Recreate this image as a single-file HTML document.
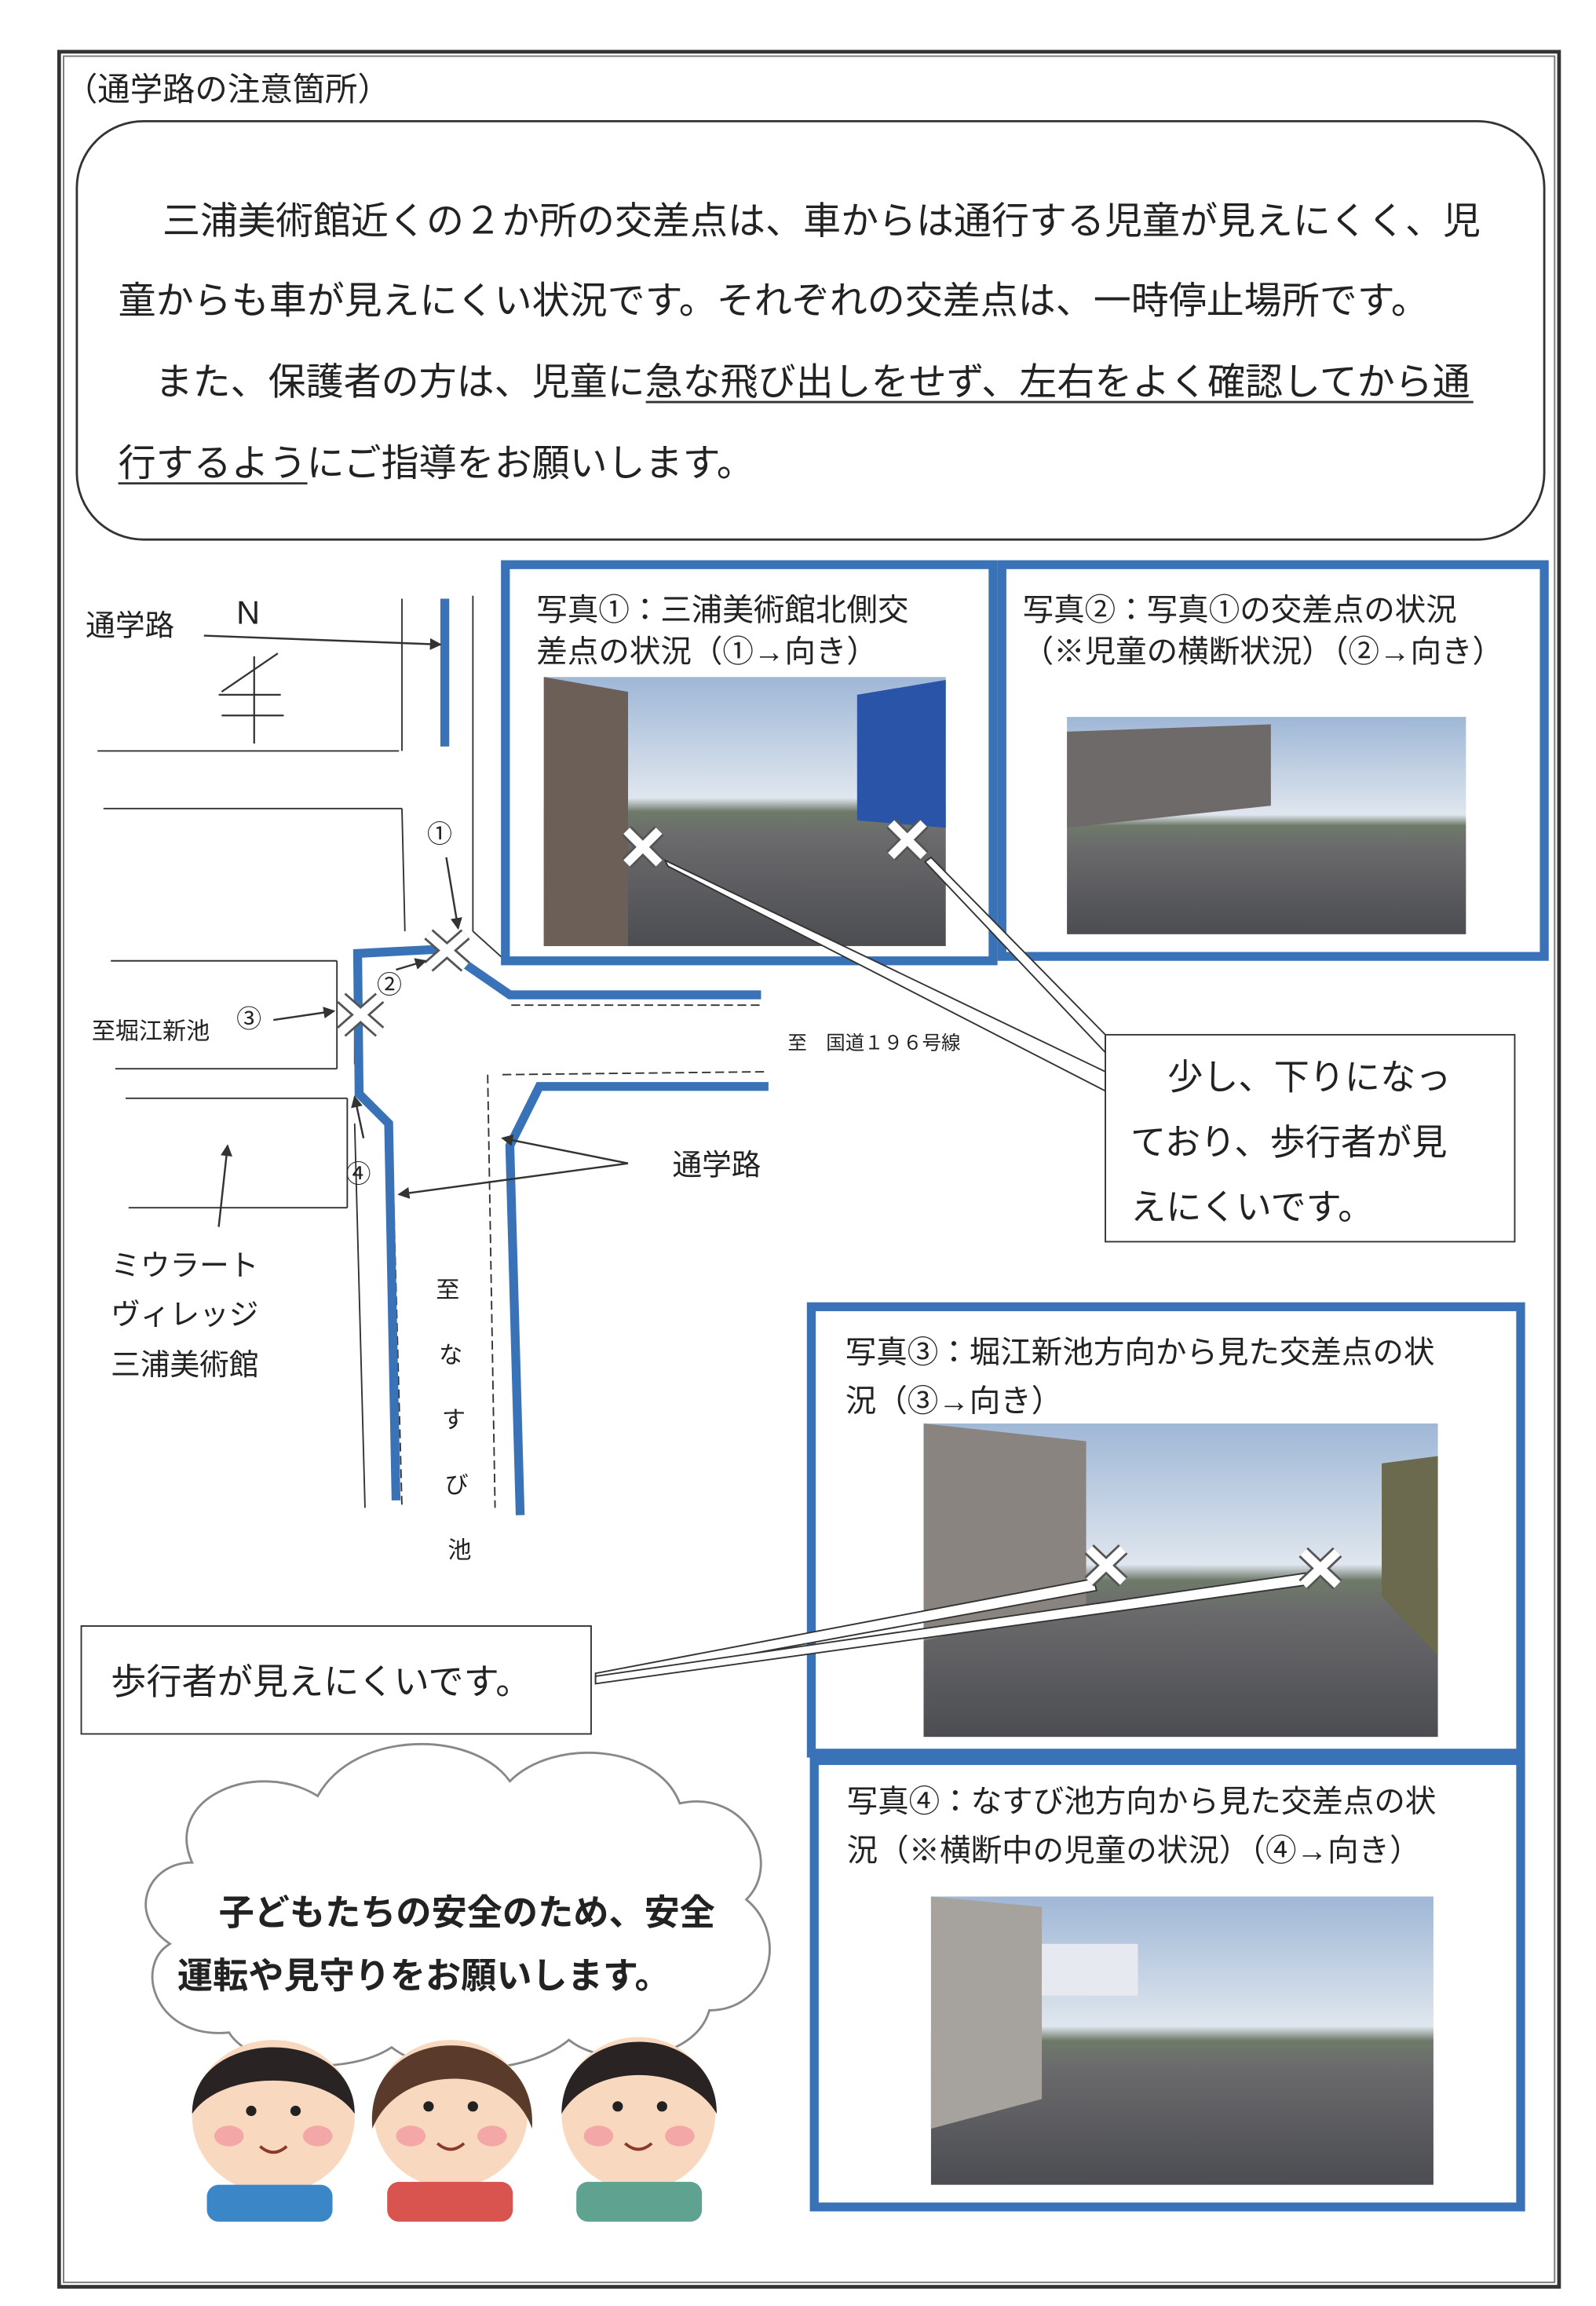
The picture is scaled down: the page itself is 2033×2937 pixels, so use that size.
<!DOCTYPE html>
<html><head><meta charset="utf-8"><style>
html,body{margin:0;padding:0;background:#fff;}
svg{display:block;}
text{font-family:"Liberation Sans","Noto Sans CJK JP",sans-serif;fill:#222;}
</style></head><body>
<svg width="2033" height="2937" viewBox="0 0 1080 1560" preserveAspectRatio="none" xmlns="http://www.w3.org/2000/svg">
<defs>
<marker id="ah" markerWidth="8" markerHeight="8" refX="7" refY="4" orient="auto" markerUnits="userSpaceOnUse"><path d="M0,0 L8,4 L0,8 z" fill="#333"/></marker>
<linearGradient id="sky" x1="0" y1="0" x2="0" y2="1"><stop offset="0" stop-color="#9fb7d6"/><stop offset="0.45" stop-color="#dfe6ee"/><stop offset="0.5" stop-color="#6f7a6a"/><stop offset="0.6" stop-color="#6a6a6c"/><stop offset="1" stop-color="#4c4d52"/></linearGradient>
</defs>
<rect x="0" y="0" width="1080" height="1560" fill="#fff"/>
<!-- outer frame -->
<rect x="40" y="35" width="1015" height="1512" fill="none" stroke="#333" stroke-width="2.5"/>
<rect x="43" y="38" width="1009" height="1506" fill="none" stroke="#777" stroke-width="1"/>
<text x="44" y="68" font-size="22">（通学路の注意箇所）</text>
<!-- intro box -->
<rect x="52" y="82" width="993" height="283" rx="45" fill="none" stroke="#333" stroke-width="1.5"/>
<g font-size="25.5">
<text x="110" y="158">三浦美術館近くの２か所の交差点は、車からは通行する児童が見えにくく、児</text>
<text x="80" y="212">童からも車が見えにくい状況です。それぞれの交差点は、一時停止場所です。</text>
<text x="105" y="267">また、保護者の方は、児童に急な飛び出しをせず、左右をよく確認してから通</text>
<text x="80" y="322">行するようにご指導をお願いします。</text>
</g>
<line x1="437" y1="272" x2="997" y2="272" stroke="#333" stroke-width="1.5"/>
<line x1="80" y1="327" x2="208" y2="327" stroke="#333" stroke-width="1.5"/>

<!-- map -->
<g stroke="#333" stroke-width="1" fill="none">
<line x1="66" y1="508" x2="270" y2="508"/><line x1="272" y1="405" x2="272" y2="508"/>
<line x1="320" y1="403" x2="320" y2="630"/>
<line x1="70" y1="547" x2="272" y2="547"/><line x1="272" y1="547" x2="274" y2="630"/>
<line x1="75" y1="650" x2="228" y2="650"/><line x1="228" y1="650" x2="228" y2="723"/>
<line x1="78" y1="723" x2="228" y2="723"/>
<line x1="85" y1="743" x2="235" y2="743"/><line x1="235" y1="743" x2="235" y2="817"/>
<line x1="87" y1="817" x2="235" y2="817"/>
<line x1="240" y1="760" x2="247" y2="1020"/>
<line x1="320" y1="630" x2="340" y2="648"/>
<line x1="346" y1="680" x2="515" y2="680" stroke-dasharray="6,3"/>
<line x1="340" y1="727" x2="520" y2="725" stroke-dasharray="6,3"/>
<line x1="330" y1="727" x2="335" y2="1020" stroke-dasharray="6,3"/>
<line x1="265" y1="760" x2="272" y2="1020" stroke-dasharray="6,3"/>
<line x1="240" y1="648" x2="240" y2="720" />
</g>
<!-- north mark -->
<text x="160" y="422" font-size="22">N</text>
<g stroke="#333" stroke-width="1.2"><line x1="172" y1="444" x2="172" y2="503"/><line x1="148" y1="470" x2="190" y2="470"/><line x1="150" y1="484" x2="192" y2="484"/><line x1="150" y1="468" x2="188" y2="442"/></g>
<!-- blue roads -->
<g stroke="#3a72b8" stroke-width="6" fill="none" stroke-linejoin="miter">
<line x1="301" y1="405" x2="301" y2="505"/>
<polyline points="268,1015 263,760 243,740 242,645 300,642 345,673 515,673"/>
<polyline points="352,1025 345,775 365,735 520,735"/>
</g>
<!-- X marks -->
<g stroke="#555" stroke-width="9" stroke-linecap="butt"><line x1="290" y1="632" x2="315" y2="654"/><line x1="290" y1="654" x2="315" y2="632"/><line x1="231" y1="675" x2="257" y2="698"/><line x1="231" y1="698" x2="257" y2="675"/></g>
<g stroke="#fff" stroke-width="6"><line x1="290" y1="632" x2="315" y2="654"/><line x1="290" y1="654" x2="315" y2="632"/><line x1="231" y1="675" x2="257" y2="698"/><line x1="231" y1="698" x2="257" y2="675"/></g>
<g font-size="17"><text x="289" y="570">①</text><text x="255" y="672">②</text><text x="160" y="695">③</text><text x="234" y="800">④</text></g>
<g stroke="#333" stroke-width="1.3" fill="none" marker-end="url(#ah)">
<line x1="138" y1="430" x2="298" y2="436"/>
<line x1="302" y1="580" x2="310" y2="628"/>
<line x1="268" y1="656" x2="288" y2="650"/>
<line x1="185" y1="690" x2="226" y2="684"/>
<line x1="246" y1="770" x2="240" y2="742"/>
<line x1="148" y1="830" x2="154" y2="775"/>
<line x1="425" y1="787" x2="270" y2="808"/>
<line x1="425" y1="787" x2="340" y2="770"/>
</g>
<text x="58" y="430" font-size="20">通学路</text>
<text x="62" y="703" font-size="16">至堀江新池</text>
<text x="533" y="710" font-size="13">至　国道１９６号線</text>
<text x="455" y="795" font-size="20">通学路</text>
<g font-size="20"><text x="75" y="863">ミウラート</text><text x="75" y="896">ヴィレッジ</text><text x="75" y="930">三浦美術館</text></g>
<g font-size="16"><text x="295" y="878">至</text><text x="297" y="922">な</text><text x="299" y="966">す</text><text x="301" y="1010">び</text><text x="303" y="1054">池</text></g>

<!-- photo 1 -->
<rect x="342" y="382" width="330" height="268" fill="none" stroke="#3a72b8" stroke-width="6"/>
<text x="363" y="420" font-size="21">写真①：三浦美術館北側交</text>
<text x="363" y="448" font-size="21">差点の状況（①→向き）</text>
<rect x="368" y="458" width="272" height="182" fill="url(#sky)"/>
<polygon points="368,458 425,468 425,640 368,640" fill="#6b5f58"/>
<polygon points="580,470 640,460 640,560 580,555" fill="#2a54a8"/>
<!-- photo 2 -->
<rect x="678" y="382" width="367" height="265" fill="none" stroke="#3a72b8" stroke-width="6"/>
<text x="692" y="420" font-size="21">写真②：写真①の交差点の状況</text>
<text x="692" y="448" font-size="21">（※児童の横断状況）（②→向き）</text>
<rect x="722" y="485" width="270" height="147" fill="url(#sky)"/>
<polygon points="722,495 860,490 860,545 722,560" fill="#6f6a6a"/>
<!-- pointers -->
<g stroke="#333" stroke-width="1" fill="#fff"><polygon points="450,582 748,725 748,738 452,586"/><polygon points="630,580 748,700 748,712 626,583"/></g>
<g stroke="#555" stroke-width="9"><line x1="424" y1="562" x2="446" y2="584"/><line x1="424" y1="584" x2="446" y2="562"/><line x1="603" y1="557" x2="625" y2="579"/><line x1="603" y1="579" x2="625" y2="557"/></g>
<g stroke="#fff" stroke-width="6"><line x1="424" y1="562" x2="446" y2="584"/><line x1="424" y1="584" x2="446" y2="562"/><line x1="603" y1="557" x2="625" y2="579"/><line x1="603" y1="579" x2="625" y2="557"/></g>
<rect x="748" y="700" width="277" height="140" fill="#fff" stroke="#333" stroke-width="1"/>
<g font-size="24"><text x="790" y="737">少し、下りになっ</text><text x="765" y="781">ており、歩行者が見</text><text x="765" y="825">えにくいです。</text></g>

<!-- photo 3 -->
<rect x="549" y="884" width="480" height="302" fill="none" stroke="#3a72b8" stroke-width="6"/>
<text x="572" y="922" font-size="21">写真③：堀江新池方向から見た交差点の状</text>
<text x="572" y="955" font-size="21">況（③→向き）</text>
<rect x="625" y="963" width="348" height="212" fill="url(#sky)"/>
<polygon points="625,963 735,975 735,1085 625,1110" fill="#8a8480"/>
<polygon points="935,990 973,985 973,1120 935,1080" fill="#6b6a4e"/>
<!-- photo 4 -->
<rect x="551" y="1191" width="478" height="302" fill="none" stroke="#3a72b8" stroke-width="6"/>
<text x="573" y="1226" font-size="21">写真④：なすび池方向から見た交差点の状</text>
<text x="573" y="1259" font-size="21">況（※横断中の児童の状況）（④→向き）</text>
<rect x="630" y="1283" width="340" height="195" fill="url(#sky)"/>
<polygon points="630,1283 705,1290 705,1420 630,1440" fill="#a6a39f"/>
<rect x="705" y="1315" width="65" height="35" fill="#e6e9ef"/>
<!-- pedestrian box & pointers -->
<g stroke="#333" stroke-width="1" fill="#fff"><polygon points="403,1132 740,1068 742,1076 403,1138"/><polygon points="403,1134 885,1064 886,1072 403,1139"/></g>
<g stroke="#555" stroke-width="9"><line x1="737" y1="1048" x2="760" y2="1070"/><line x1="737" y1="1070" x2="760" y2="1048"/><line x1="882" y1="1050" x2="905" y2="1072"/><line x1="882" y1="1072" x2="905" y2="1050"/></g>
<g stroke="#fff" stroke-width="6"><line x1="737" y1="1048" x2="760" y2="1070"/><line x1="737" y1="1070" x2="760" y2="1048"/><line x1="882" y1="1050" x2="905" y2="1072"/><line x1="882" y1="1072" x2="905" y2="1050"/></g>
<rect x="55" y="1100" width="345" height="73" fill="#fff" stroke="#333" stroke-width="1"/>
<text x="75" y="1146" font-size="24">歩行者が見えにくいです。</text>

<!-- cloud -->
<path d="M130,1260 C110,1215 175,1190 215,1215 C240,1170 320,1170 345,1205 C375,1175 445,1180 460,1220 C505,1210 530,1260 505,1285 C535,1310 520,1360 480,1360 C470,1395 410,1400 385,1380 C355,1405 290,1405 265,1385 C235,1405 170,1400 155,1375 C105,1380 90,1330 115,1315 C85,1295 100,1260 130,1260 Z" fill="#fff" stroke="#888" stroke-width="1.5"/>
<g font-size="24" font-weight="bold"><text x="148" y="1302">子どもたちの安全のため、安全</text><text x="120" y="1345">運転や見守りをお願いします。</text></g>
<!-- kids -->
<g>
<ellipse cx="185" cy="1432" rx="55" ry="52" fill="#f8d9bf"/><path d="M130,1430 C130,1370 240,1370 240,1430 C220,1400 150,1400 130,1430Z" fill="#2a2323"/>
<rect x="140" y="1478" width="85" height="25" rx="8" fill="#3b86c6"/>
<ellipse cx="305" cy="1430" rx="52" ry="50" fill="#f8d9bf"/><path d="M252,1440 C245,1365 365,1365 360,1440 C345,1395 270,1395 252,1440Z" fill="#5a3a2a"/>
<rect x="262" y="1476" width="85" height="27" rx="8" fill="#d9534f"/>
<ellipse cx="432" cy="1430" rx="52" ry="52" fill="#f8d9bf"/><path d="M380,1430 C380,1365 485,1365 485,1430 C465,1395 400,1395 380,1430Z" fill="#2a2323"/>
<rect x="390" y="1476" width="85" height="27" rx="8" fill="#5fa28f"/>
<g fill="#f3a7a7"><ellipse cx="155" cy="1445" rx="10" ry="7"/><ellipse cx="215" cy="1445" rx="10" ry="7"/><ellipse cx="278" cy="1445" rx="10" ry="7"/><ellipse cx="333" cy="1445" rx="10" ry="7"/><ellipse cx="405" cy="1445" rx="10" ry="7"/><ellipse cx="460" cy="1445" rx="10" ry="7"/></g>
<g fill="#222"><circle cx="170" cy="1428" r="3.5"/><circle cx="200" cy="1428" r="3.5"/><circle cx="290" cy="1425" r="3.5"/><circle cx="320" cy="1425" r="3.5"/><circle cx="418" cy="1425" r="3.5"/><circle cx="448" cy="1425" r="3.5"/></g>
<g stroke="#8a3a2a" stroke-width="2" fill="none"><path d="M176,1452 q9,8 18,0"/><path d="M296,1450 q9,8 18,0"/><path d="M423,1450 q9,8 18,0"/></g>
</g>
</svg>
</body></html>
